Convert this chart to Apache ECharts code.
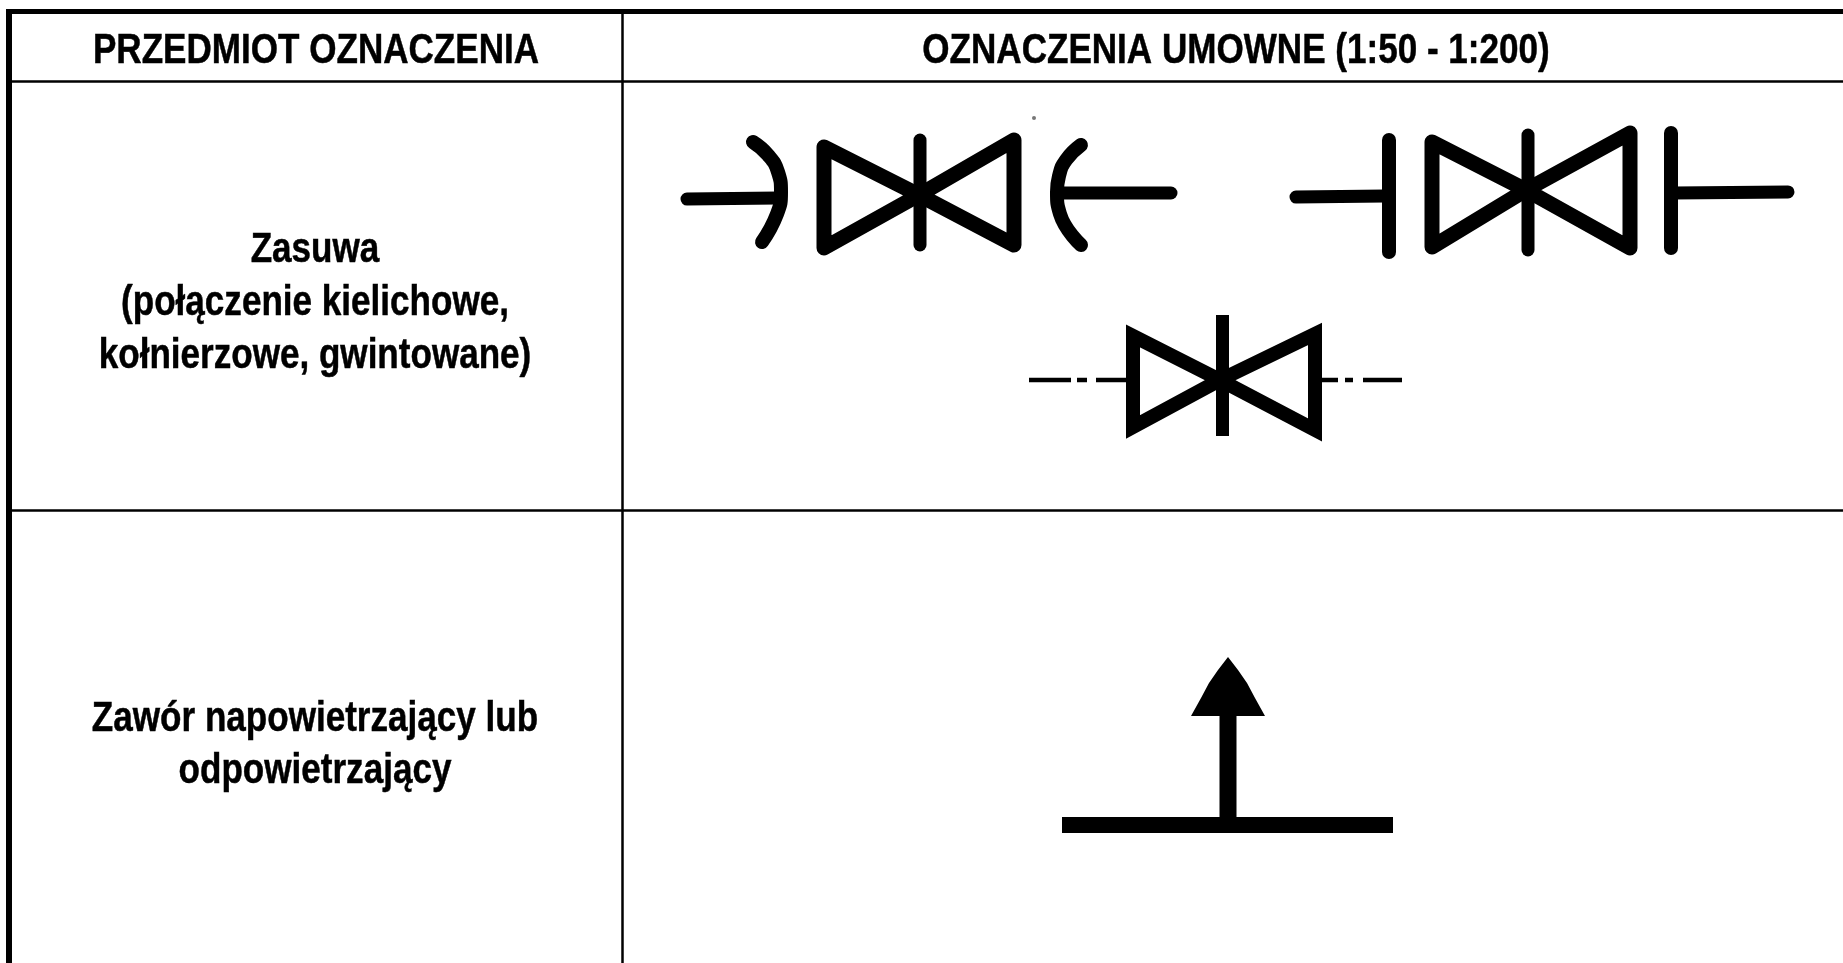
<!DOCTYPE html>
<html>
<head>
<meta charset="utf-8">
<style>
html, body { margin: 0; padding: 0; background: #fff; }
#chart { width: 1843px; height: 963px; }
</style>
<script src="https://cdn.jsdelivr.net/npm/echarts@6/dist/echarts.min.js"></script>
</head>
<body>
<div id="chart"></div>
<script>
// table text: x, y, text
const headerLabels = [
    [316, 51, 'PRZEDMIOT OZNACZENIA'],
    [1236, 51, 'OZNACZENIA UMOWNE (1:50 - 1:200)']
];
const rowLabels = [
    [315, 250, 'Zasuwa'],
    [315, 303, '(połączenie kielichowe,'],
    [315, 356, 'kołnierzowe, gwintowane)'],
    [315, 719, 'Zawór napowietrzający lub'],
    [315, 771, 'odpowietrzający']
];

// table rules
const topBorder = [[6, 11.5], [1843, 11.5]];
const leftBorder = [[9, 9], [9, 963]];
const headerRule = [[9, 81.5], [1843, 81.5]];
const rowRule = [[9, 510.5], [1843, 510.5]];
const columnRule = [[622.5, 12], [622.5, 963]];

// flanged socket valve, top left
const valveA = {
    stubLeft: [[687, 199], [778, 198]],
    arcLeft: [[753, 142], [768, 155], [778, 172], [781, 192], [777, 214], [762, 242]],
    wedgeLeft: [[919, 195], [824, 147], [824, 248], [919, 195]],
    stem: [[920, 140], [920, 245]],
    wedgeRight: [[919, 195], [1014, 140], [1014, 245], [919, 195]],
    arcRight: [[1081, 145], [1066, 160], [1059, 176], [1057, 192], [1060, 214], [1081, 245]],
    stubRight: [[1064, 193], [1171, 193]]
};
// flanged valve, top right
const valveB = {
    stubLeft: [[1296, 197], [1385, 196]],
    barLeft: [[1389, 140], [1389, 252]],
    wedgeLeft: [[1526, 190], [1432, 142], [1432, 247], [1526, 190]],
    stem: [[1528, 135], [1528, 250]],
    wedgeRight: [[1526, 190], [1630, 133], [1630, 248], [1526, 190]],
    barRight: [[1671, 133], [1671, 248]],
    stubRight: [[1674, 193], [1788, 192]]
};
// threaded valve, bottom, with dash-dot pipe
const valveC = {
    wedgeLeft: [[1220, 380], [1133, 336], [1133, 427], [1220, 380]],
    wedgeRight: [[1220, 380], [1315, 334], [1315, 430], [1220, 380]],
    stem: [[1222.5, 315], [1222.5, 436]]
};
const pipeDashes = [
    [[1029, 380], [1071, 380]],
    [[1077, 380], [1087, 380]],
    [[1096, 380], [1127, 380]],
    [[1322, 380], [1338, 380]],
    [[1345, 380], [1353, 380]],
    [[1363, 380], [1402, 380]]
];

// air valve symbol
const airBase = [[1062, 825], [1393, 825]];
const airStem = [[1228, 716], [1228, 817]];
const airHead = [
    [1228, 657], [1238, 670], [1247, 683], [1255, 698], [1265, 716],
    [1191, 716], [1201, 698], [1209, 683], [1218, 670]
];

const scanSpeck = [[1034, 118]];

function stroke(points, width, extra) {
    return {
        type: 'line',
        data: points,
        symbol: 'none',
        silent: true,
        smooth: extra && extra.smooth ? 0.5 : false,
        lineStyle: Object.assign({ color: '#000', width: width, cap: 'butt', join: 'miter', miterLimit: 10 }, extra && extra.style)
    };
}
const soft = { style: { cap: 'round', join: 'round' } };
const softArc = { smooth: true, style: { cap: 'round', join: 'round' } };

function textSeries(rows, fontSize, scaleX) {
    return {
        type: 'custom',
        silent: true,
        data: rows.map(r => [r[0], r[1]]),
        encode: { x: 0, y: 1 },
        renderItem: function (params, api) {
            const pos = api.coord([api.value(0), api.value(1)]);
            return {
                type: 'text',
                x: pos[0],
                y: pos[1],
                scaleX: scaleX,
                style: {
                    text: rows[params.dataIndex][2],
                    x: 0,
                    y: 0,
                    fill: '#000',
                    stroke: '#000',
                    lineWidth: 0.5,
                    font: 'bold ' + fontSize + 'px "Liberation Sans", Arial, sans-serif',
                    textAlign: 'center',
                    textVerticalAlign: 'middle'
                }
            };
        }
    };
}

const series = [
    stroke(topBorder, 5),
    stroke(leftBorder, 6),
    stroke(headerRule, 2.5),
    stroke(rowRule, 2.5),
    stroke(columnRule, 2.5),

    stroke(valveA.stubLeft, 13, soft),
    stroke(valveA.arcLeft, 14, softArc),
    stroke(valveA.wedgeLeft, 15, soft),
    stroke(valveA.stem, 13, soft),
    stroke(valveA.wedgeRight, 15, soft),
    stroke(valveA.arcRight, 14, softArc),
    stroke(valveA.stubRight, 13, soft),

    stroke(valveB.stubLeft, 13, soft),
    stroke(valveB.barLeft, 14, soft),
    stroke(valveB.wedgeLeft, 15, soft),
    stroke(valveB.stem, 13, soft),
    stroke(valveB.wedgeRight, 15, soft),
    stroke(valveB.barRight, 14, soft),
    stroke(valveB.stubRight, 13, soft),

    stroke(valveC.wedgeLeft, 14),
    stroke(valveC.wedgeRight, 14),
    stroke(valveC.stem, 13)
];
pipeDashes.forEach(d => series.push(stroke(d, 4.5)));

series.push(stroke(airBase, 16));
series.push(stroke(airStem, 17));
series.push({
    type: 'custom',
    silent: true,
    data: airHead,
    encode: { x: 0, y: 1 },
    renderItem: function (params, api) {
        if (params.dataIndex !== 0) return;
        return {
            type: 'polygon',
            shape: { points: airHead.map(p => api.coord(p)) },
            style: { fill: '#000' }
        };
    }
});
series.push({
    type: 'scatter',
    silent: true,
    data: scanSpeck,
    symbolSize: 4,
    itemStyle: { color: '#555' }
});
series.push(textSeries(headerLabels, 42, 0.835));
series.push(textSeries(rowLabels, 42, 0.835));

const myChart = echarts.init(document.getElementById('chart'));
myChart.setOption({
    animation: false,
    backgroundColor: '#fff',
    grid: { left: 0, right: 0, top: 0, bottom: 0 },
    xAxis: { type: 'value', min: 0, max: 1843, show: false },
    yAxis: { type: 'value', min: 0, max: 963, inverse: true, show: false },
    series: series
});
</script>
</body>
</html>
